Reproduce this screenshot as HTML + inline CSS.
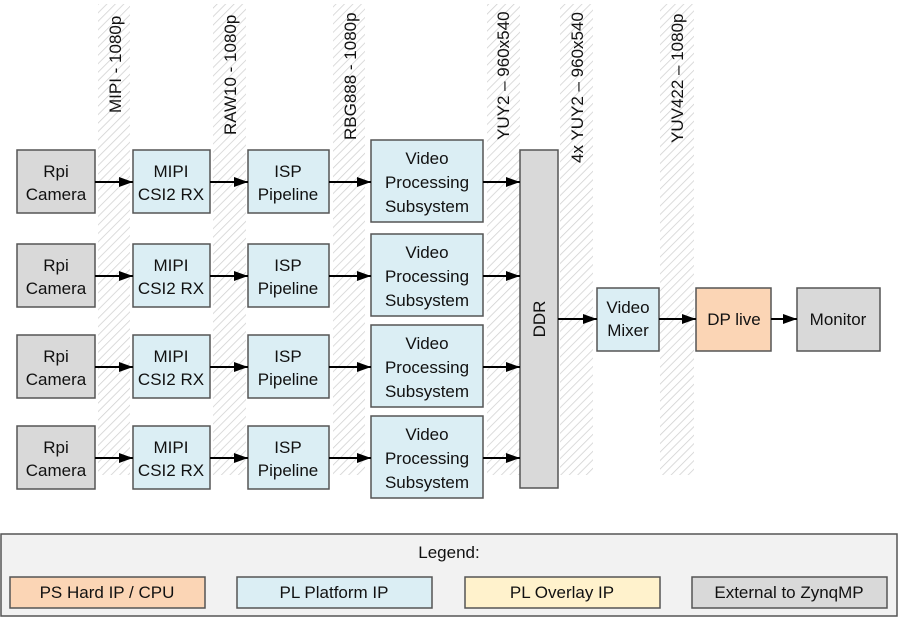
<!DOCTYPE html>
<html><head><meta charset="utf-8"><style>
html,body{margin:0;padding:0;background:#fff;}
svg text{font-family:"Liberation Sans",sans-serif;font-size:17px;fill:#111;}
</style></head><body>
<svg width="899" height="618" xmlns="http://www.w3.org/2000/svg">
<defs>
<pattern id="h" width="6" height="6" patternUnits="userSpaceOnUse" patternTransform="rotate(45)">
<rect width="6" height="6" fill="#fff"/><line x1="0" y1="0" x2="0" y2="6" stroke="#d0d0d0" stroke-width="1.5"/>
</pattern>
<marker id="a" markerWidth="14" markerHeight="10" refX="14" refY="5" orient="auto" markerUnits="userSpaceOnUse">
<path d="M0,0 L14,5 L0,10 z" fill="#000"/></marker>
</defs>
<g fill="url(#h)">
<rect x="98" y="4" width="32" height="471"/>
<rect x="213" y="4" width="33" height="471"/>
<rect x="333" y="4" width="32" height="471"/>
<rect x="487" y="4" width="33" height="471"/>
<rect x="560" y="4" width="33" height="471"/>
<rect x="660" y="4" width="34" height="471"/>
</g>
<g text-anchor="start">
<text transform="translate(121,113) rotate(-90)">MIPI - 1080p</text>
<text transform="translate(236,135) rotate(-90)">RAW10 - 1080p</text>
<text transform="translate(356,140) rotate(-90)">RBG888 - 1080p</text>
<text transform="translate(509,140) rotate(-90)">YUY2 – 960x540</text>
<text transform="translate(583,163) rotate(-90)">4x YUY2 – 960x540</text>
<text transform="translate(683,143) rotate(-90)">YUV422 – 1080p</text>
</g>
<g stroke="#555" stroke-width="1.5" text-anchor="middle">
<g id="r1">
<rect x="17" y="150" width="78" height="63" fill="#d9d9d9"/>
<rect x="133" y="150" width="77" height="63" fill="#dbeef4"/>
<rect x="248" y="150" width="81" height="63" fill="#dbeef4"/>
<rect x="371" y="140" width="112" height="82" fill="#dbeef4"/>
</g>
<use href="#r1" y="94"/>
<use href="#r1" y="185"/>
<use href="#r1" y="276"/>
<rect x="520" y="150" width="38" height="338" fill="#d9d9d9"/>
<rect x="597" y="288" width="62" height="63" fill="#dbeef4"/>
<rect x="696" y="288" width="75" height="63" fill="#fbd5b5"/>
<rect x="797" y="288" width="83" height="63" fill="#d9d9d9"/>
<rect x="1" y="534" width="896" height="82" fill="#f2f2f2"/>
<rect x="10" y="577" width="195" height="31" fill="#fbd5b5"/>
<rect x="237" y="577" width="195" height="31" fill="#dbeef4"/>
<rect x="465" y="577" width="195" height="31" fill="#fff2cc"/>
<rect x="692" y="577" width="195" height="31" fill="#d9d9d9"/>
</g>
<g stroke="#000" stroke-width="2" marker-end="url(#a)">
<g id="ar">
<line x1="95" y1="182" x2="133" y2="182"/>
<line x1="210" y1="182" x2="248" y2="182"/>
<line x1="329" y1="182" x2="371" y2="182"/>
<line x1="483" y1="182" x2="520" y2="182"/>
</g>
<use href="#ar" y="94"/>
<use href="#ar" y="185"/>
<use href="#ar" y="276"/>
<line x1="558" y1="319" x2="597" y2="319"/>
<line x1="659" y1="319" x2="696" y2="319"/>
<line x1="771" y1="319" x2="797" y2="319"/>
</g>
<g text-anchor="middle" id="t1">
<text x="56" y="177">Rpi</text><text x="56" y="200">Camera</text>
<text x="171" y="177">MIPI</text><text x="171" y="200">CSI2 RX</text>
<text x="288" y="177">ISP</text><text x="288" y="200">Pipeline</text>
<text x="427" y="164">Video</text><text x="427" y="188">Processing</text><text x="427" y="212">Subsystem</text>
</g>
<use href="#t1" y="94"/>
<use href="#t1" y="185"/>
<use href="#t1" y="276"/>
<g text-anchor="middle">
<text transform="translate(545,319) rotate(-90)">DDR</text>
<text x="628" y="313">Video</text><text x="628" y="336">Mixer</text>
<text x="734" y="325">DP live</text>
<text x="838" y="325">Monitor</text>
<text x="449" y="558">Legend:</text>
<text x="107" y="598">PS Hard IP / CPU</text>
<text x="334" y="598">PL Platform IP</text>
<text x="562" y="598">PL Overlay IP</text>
<text x="789" y="598">External to ZynqMP</text>
</g>
</svg>
</body></html>
